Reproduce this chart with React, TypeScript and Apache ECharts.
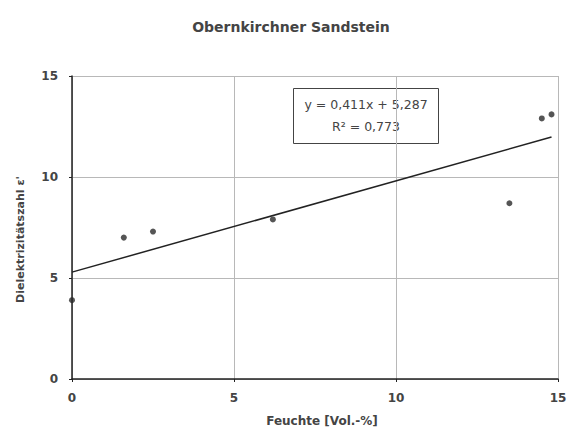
import React, { useEffect, useRef } from "react";
import * as echarts from "echarts";

const title = "Obernkirchner Sandstein";
const xAxisName = "Feuchte [Vol.-%]";
const yAxisName = "Dielektrizitätszahl ε'";
const moisture = [0, 1.6, 2.5, 6.2, 13.5, 14.5, 14.8];
const permittivity = [3.9, 7.0, 7.3, 7.9, 8.7, 12.9, 13.1];
const trendX = [0, 14.8];
const trendY = [5.29, 11.98];
const equationLines = ["y = 0,411x + 5,287", "R² = 0,773"];

export default function App() {
  const ref = useRef<HTMLDivElement>(null);
  useEffect(() => {
    if (!ref.current) return;
    const chart = echarts.init(ref.current, undefined, { renderer: "svg" });
    const font = "DejaVu Sans, Liberation Sans, Arial, sans-serif";
    chart.setOption({
      animation: false,
      backgroundColor: "#ffffff",
      textStyle: { fontFamily: font },
      title: {
        text: title,
        left: 286,
        textAlign: "center",
        top: 15,
        textStyle: { fontSize: 14, fontWeight: "bold", color: "#444", fontFamily: font },
      },
      grid: { left: 72, right: 15, top: 76, bottom: 52, containLabel: false },
      xAxis: {
        type: "value",
        min: 0,
        max: 15,
        interval: 5,
        name: xAxisName,
        nameLocation: "middle",
        nameGap: 36,
        nameTextStyle: { fontSize: 12, fontWeight: "bold", color: "#444", fontFamily: font, padding: [0, 0, 0, 14] },
        axisLine: { show: true, onZero: false, lineStyle: { color: "#222", width: 1.5 } },
        axisTick: { show: true, length: 3, inside: false, lineStyle: { color: "#222" } },
        axisLabel: { fontSize: 12, fontWeight: "bold", color: "#444", fontFamily: font, margin: 13 },
        splitLine: { show: true, lineStyle: { color: "#b8b8b8", width: 1 } },
      },
      yAxis: {
        type: "value",
        min: 0,
        max: 15,
        interval: 5,
        name: yAxisName,
        nameLocation: "middle",
        nameGap: 46,
        nameTextStyle: { fontSize: 11, fontWeight: "bold", color: "#444", fontFamily: font, padding: [0, 24, 0, 0] },
        axisLine: { show: true, onZero: false, lineStyle: { color: "#222", width: 1.5 } },
        axisTick: { show: true, length: 3, inside: false, lineStyle: { color: "#222" } },
        axisLabel: { fontSize: 12, fontWeight: "bold", color: "#444", fontFamily: font, margin: 14 },
        splitLine: { show: true, lineStyle: { color: "#b8b8b8", width: 1 } },
      },
      series: [
        {
          type: "line",
          data: trendX.map((x, i) => [x, trendY[i]]),
          symbol: "none",
          lineStyle: { color: "#222", width: 1.5 },
          silent: true,
          z: 2,
        },
        {
          type: "scatter",
          data: moisture.map((x, i) => [x, permittivity[i]]),
          symbol: "circle",
          symbolSize: 6,
          itemStyle: { color: "#2a2a2a" },
          z: 3,
        },
      ],
      graphic: [
        {
          type: "group",
          left: 293,
          top: 88,
          children: [
            {
              type: "rect",
              shape: { x: 0, y: 0, width: 145, height: 55 },
              style: { fill: "#ffffff", stroke: "#444", lineWidth: 1 },
            },
            {
              type: "text",
              x: 72.5,
              y: 5,
              style: {
                text: equationLines.join("\n"),
                fontSize: 12.5,
                fontFamily: font,
                fill: "#444",
                align: "center",
                lineHeight: 22,
              },
            },
          ],
        },
      ],
    });
    return () => chart.dispose();
  }, []);
  return (
    <div
      ref={ref}
      style={{ position: "fixed", left: 0, top: 0, width: 573, height: 432 }}
    />
  );
}
